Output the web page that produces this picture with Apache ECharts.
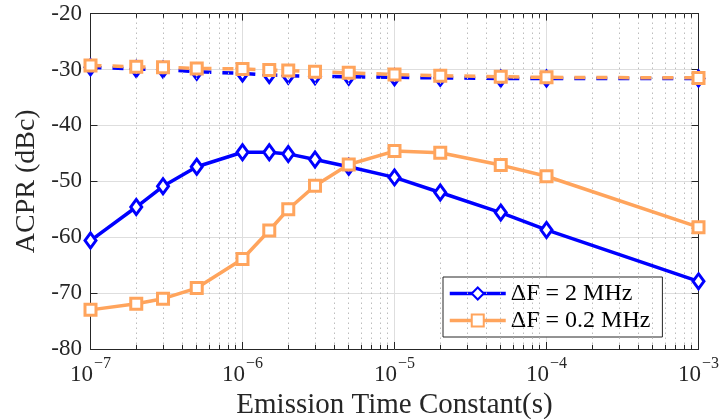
<!DOCTYPE html>
<html>
<head>
<meta charset="utf-8">
<script src="https://cdn.jsdelivr.net/npm/echarts@6/dist/echarts.min.js"></script>
<style>html,body{margin:0;padding:0;background:#fff;}#c{width:723px;height:419px;}</style>
</head>
<body>
<div id="c"></div>
<script>
const times = [1e-7, 2e-7, 3e-7, 5e-7, 1e-6, 1.5e-6, 2e-6, 3e-6, 5e-6, 1e-5, 2e-5, 5e-5, 1e-4, 1e-3];
const blueSolid = [-60.6, -54.6, -50.9, -47.4, -44.8, -44.8, -45.1, -46.1, -47.4, -49.3, -52.0, -55.6, -58.7, -67.9];
const orangeSolid = [-73.0, -71.9, -71.0, -69.1, -63.9, -58.8, -55.0, -50.8, -47.0, -44.6, -44.9, -47.1, -49.1, -58.2];
const blueDashed = [-29.6, -29.9, -30.0, -30.4, -30.7, -31.0, -31.1, -31.2, -31.3, -31.4, -31.5, -31.6, -31.6, -31.6];
const orangeDashed = [-29.3, -29.5, -29.6, -29.8, -29.9, -30.1, -30.2, -30.4, -30.6, -30.9, -31.1, -31.3, -31.4, -31.5];
const xTickExponents = [-7, -6, -5, -4, -3];
const yTicks = [-80, -70, -60, -50, -40, -30, -20];
const legendNames = ['\u0394F = 2 MHz', '\u0394F = 0.2 MHz'];

const BLUE = '#0000ff';
const ORANGE = '#ffa45c';
const INK = '#262626';
const FONT = 'Liberation Serif';

const pairs = ys => times.map((t, i) => [t, ys[i]]);

// minor log positions
const minorX = [];
for (let e = -7; e < -3; e++) {
  for (let k = 2; k <= 9; k++) minorX.push(k * Math.pow(10, e));
}
const yMin = yTicks[0], yMax = yTicks[yTicks.length - 1];
const minorGrid = minorX.map(x => [{coord: [x, yMin]}, {coord: [x, yMax]}]);
const minorTicks = [];
minorX.forEach(x => {
  minorTicks.push([{coord: [x, yMin]}, {coord: [x, yMin + 0.75]}]);
  minorTicks.push([{coord: [x, yMax]}, {coord: [x, yMax - 0.75]}]);
});

function lineSeries(name, ys, color, symbol, size, dashed, z) {
  return {
    name: name,
    type: 'line',
    data: pairs(ys),
    color: color,
    symbol: symbol,
    symbolSize: size,
    showAllSymbol: true,
    z: z,
    silent: true,
    animation: false,
    lineStyle: {color: color, width: 3.5, type: dashed ? [11, 11] : 'solid'},
    itemStyle: {color: '#ffffff', borderColor: color, borderWidth: 3},
    emphasis: {disabled: true}
  };
}

const xCommon = {
  type: 'log', logBase: 10,
  min: Math.pow(10, xTickExponents[0]),
  max: Math.pow(10, xTickExponents[xTickExponents.length - 1]),
  axisLine: {show: true, onZero: false, lineStyle: {color: INK, width: 1}},
  axisTick: {show: true, inside: true, length: 7, lineStyle: {color: INK}},
  minorTick: {show: false},
};
const yCommon = {
  type: 'value', min: yMin, max: yMax, interval: 10,
  axisLine: {show: true, onZero: false, lineStyle: {color: INK, width: 1}},
  axisTick: {show: true, inside: true, length: 7, lineStyle: {color: INK}},
};

const option = {
  backgroundColor: '#ffffff',
  animation: false,
  grid: {left: 90.5, right: 24.5, top: 13.6, bottom: 70, containLabel: false, outerBoundsMode: 'none'},
  legend: {
    data: legendNames,
    orient: 'vertical',
    left: 443, top: 277,
    backgroundColor: '#ffffff',
    borderColor: INK, borderWidth: 1,
    padding: [3, 12, 3, 5],
    itemWidth: 56, itemHeight: 15, itemGap: 0,
    selectedMode: false,
    lineStyle: {width: 3.5},
    textStyle: {fontFamily: FONT, fontSize: 24, color: '#000', lineHeight: 27},
  },
  xAxis: [
    Object.assign({}, xCommon, {
      position: 'bottom',
      name: 'Emission Time Constant(s)',
      nameLocation: 'middle', nameGap: 38,
      nameTextStyle: {fontFamily: FONT, fontSize: 29, color: INK},
      splitLine: {show: true, lineStyle: {color: '#dedede', width: 1}},
      axisLabel: {
        margin: 7,
        formatter: v => '{b|10}{s|' + String(Math.round(Math.log10(v))).replace('-', '\u2212') + '}',
        rich: {
          b: {fontFamily: FONT, fontSize: 23, color: INK, verticalAlign: 'bottom', lineHeight: 30},
          s: {fontFamily: FONT, fontSize: 16, color: INK, verticalAlign: 'top', lineHeight: 18, padding: [0, 0, 0, 1]}
        }
      }
    }),
    Object.assign({}, xCommon, {
      position: 'top',
      axisLabel: {show: false},
      splitLine: {show: false}
    })
  ],
  yAxis: [
    Object.assign({}, yCommon, {
      position: 'left',
      name: 'ACPR (dBc)',
      nameLocation: 'middle', nameGap: 46,
      nameTextStyle: {fontFamily: FONT, fontSize: 28, color: INK},
      splitLine: {show: true, lineStyle: {color: '#dedede', width: 1}},
      axisLabel: {fontFamily: FONT, fontSize: 23, color: INK, margin: 8.5}
    }),
    Object.assign({}, yCommon, {
      position: 'right',
      axisLabel: {show: false},
      splitLine: {show: false}
    })
  ],
  series: [
    {
      name: 'grid-minor', type: 'line', data: [], z: 1, silent: true,
      markLine: {
        silent: true, symbol: ['none', 'none'], animation: false,
        label: {show: false},
        lineStyle: {color: '#bdbdbd', width: 1, type: [1.5, 3.5]},
        emphasis: {disabled: true},
        data: minorGrid
      }
    },
    {
      name: 'tick-minor', type: 'line', data: [], z: 3, silent: true,
      markLine: {
        silent: true, symbol: ['none', 'none'], animation: false,
        label: {show: false},
        lineStyle: {color: INK, width: 1, type: 'solid'},
        emphasis: {disabled: true},
        data: minorTicks
      }
    },
    lineSeries('blue-dashed', blueDashed, BLUE, 'diamond', [11, 15], true, 4),
    lineSeries(legendNames[0], blueSolid, BLUE, 'diamond', [11, 15], false, 5),
    lineSeries('orange-dashed', orangeDashed, ORANGE, 'rect', [11, 11], true, 6),
    lineSeries(legendNames[1], orangeSolid, ORANGE, 'rect', [11, 11], false, 7)
  ]
};

const chart = echarts.init(document.getElementById('c'), null, {renderer: 'canvas'});
chart.setOption(option);
</script>
</body>
</html>
